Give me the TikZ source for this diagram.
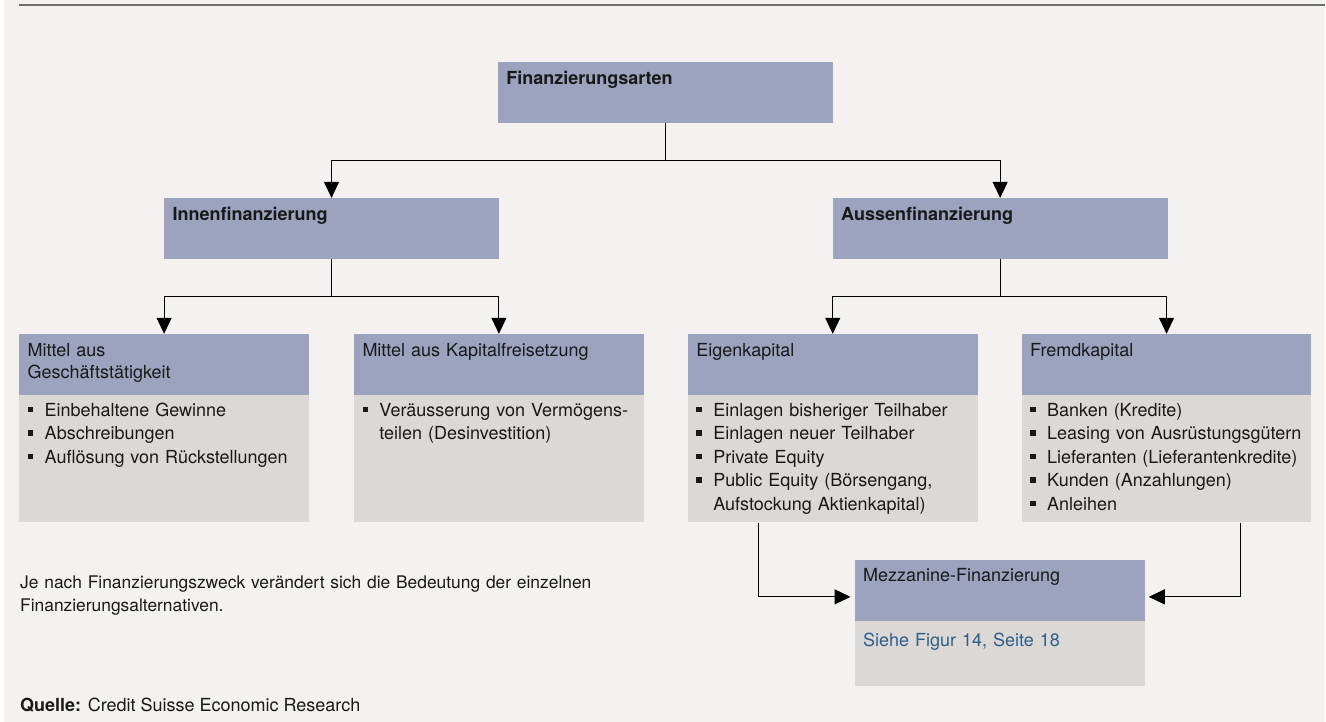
\documentclass[tikz,border=0pt]{standalone}
\usepackage{fontspec}
\setmainfont{TeX Gyre Heros}
\usetikzlibrary{arrows.meta,positioning}

\definecolor{bgcol}{RGB}{244,241,238}
\definecolor{hdrcol}{RGB}{155,163,191}
\definecolor{bodycol}{RGB}{220,216,213}
\definecolor{linkcol}{RGB}{47,94,138}
\definecolor{txtcol}{RGB}{25,25,25}
\definecolor{rulecol}{RGB}{110,110,110}

% bullet item with hanging indent
\newcommand{\itm}[1]{\hangindent=17pt\hangafter=1\makebox[17pt][l]{\rule[4pt]{5.5pt}{5.5pt}}#1\par}

\begin{document}
\begin{tikzpicture}[x=1pt, y=-1pt,
  every node/.style={font=\fontsize{18}{23}\selectfont, text=txtcol},
  hdr/.style={fill=hdrcol, anchor=north west, align=left, inner xsep=8.5pt,
    inner ysep=0pt, text width=273pt, text height=22pt, text depth=39pt},
  wide/.style={hdr, text width=318pt, font=\fontsize{18}{23}\selectfont\bfseries},
  body/.style={fill=bodycol, align=left, inner xsep=8.5pt, inner ysep=0pt,
    text width=273pt, text height=21pt, text depth=106pt,
    font=\fontsize{18}{23.5}\selectfont},
  arr/.style={-{Triangle[length=16pt,width=15pt]}, line width=1pt},
  node distance=0pt
]
% background and top rule
\fill[bgcol] (0,0) rectangle (1326,722);
\fill[white] (0,0) rectangle (4,722);
\draw[rulecol, line width=1.5pt] (19,5) -- (1326,5);

% levels 1 and 2
\node[wide] (top) at (498,62) {Finanzierungsarten};
\node[wide] (inn) at (164,198) {Innenfinanzierung};
\node[wide] (aus) at (833,198) {Aussenfinanzierung};

% level 3
\node[hdr] (gesh) at (19,334) {Mittel aus\\Geschäftstätigkeit};
\node[body, below=of gesh] (geshb) {\itm{Einbehaltene Gewinne}
  \itm{Abschreibungen}
  \itm{Auflösung von Rückstellungen}};

\node[hdr] (kap) at (354,334) {Mittel aus Kapitalfreisetzung};
\node[body, below=of kap] (kapb) {\itm{Veräusserung von Vermögens-\newline teilen (Desinvestition)}};

\node[hdr] (eig) at (688,334) {Eigenkapital};
\node[body, below=of eig] (eigb) {\itm{Einlagen bisheriger Teilhaber}
  \itm{Einlagen neuer Teilhaber}
  \itm{Private Equity}
  \itm{Public Equity (Börsengang,\newline Aufstockung Aktienkapital)}};

\node[hdr] (fre) at (1022,334) {Fremdkapital};
\node[body, below=of fre] (freb) {\itm{Banken (Kredite)}
  \itm{Leasing von Ausrüstungsgütern}
  \itm{Lieferanten (Lieferantenkredite)}
  \itm{Kunden (Anzahlungen)}
  \itm{Anleihen}};

% mezzanine
\node[hdr] (mezz) at (855,560) {Mezzanine-Finanzierung};
\node[body, below=of mezz, text height=25pt, text depth=40pt, text=linkcol] (mezzb) {Siehe Figur 14, Seite 18};

% notes
\node[anchor=base west, align=left, inner sep=0pt, text width=700pt,
  font=\fontsize{17.4}{23}\selectfont] (note) at (20,589)
  {Je nach Finanzierungszweck verändert sich die Bedeutung der einzelnen\\Finanzierungsalternativen.};
\node[anchor=base west, inner sep=0pt] (src) at (20,712) {\textbf{Quelle:} Credit Suisse Economic Research};

% connectors
\draw[arr] (top.south) -- ++(0,37) -| (inn.north);
\draw[arr] (top.south) -- ++(0,37) -| (aus.north);
\draw[arr] (inn.south) -- ++(0,37) -| (gesh.north);
\draw[arr] (inn.south) -- ++(0,37) -| (kap.north);
\draw[arr] (aus.south) -- ++(0,37) -| (eig.north);
\draw[arr] (aus.south) -- ++(0,37) -| (fre.north);
\draw[arr, shorten >=4pt] ([xshift=-74pt]eigb.south) |- ([yshift=-6.5pt]mezz.west);
\draw[arr, shorten >=4pt] ([xshift=74pt]freb.south) |- ([yshift=-6.5pt]mezz.east);
\end{tikzpicture}
\end{document}
